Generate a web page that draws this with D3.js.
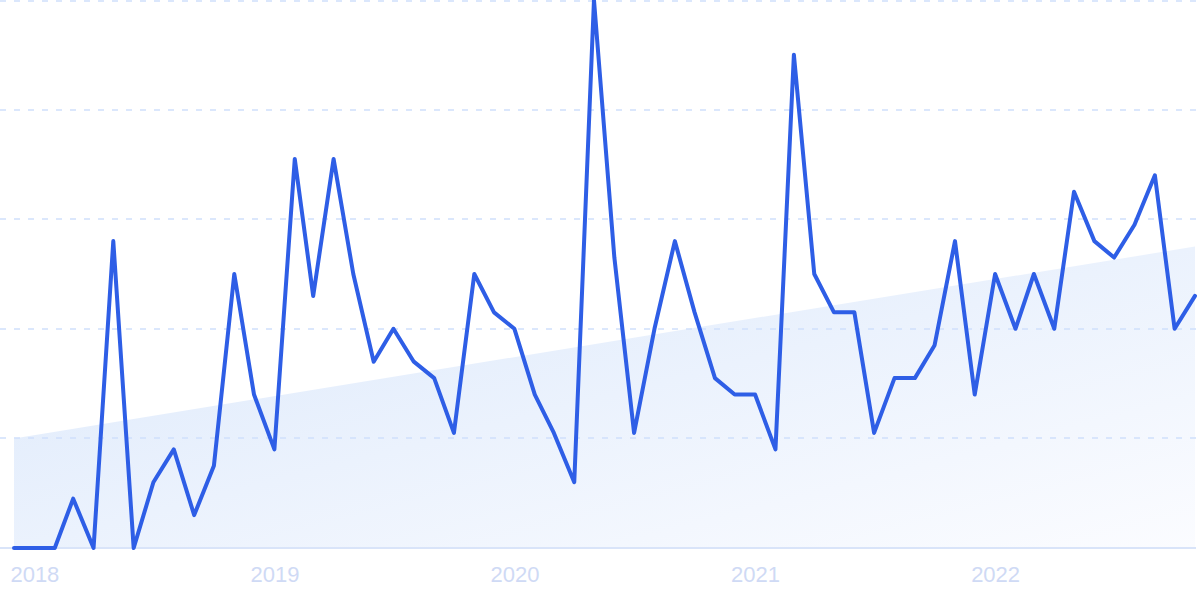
<!DOCTYPE html>
<html>
<head>
<meta charset="utf-8">
<script src="https://cdn.jsdelivr.net/npm/d3@7"></script>
<style>
  html, body { margin: 0; padding: 0; background: #ffffff; }
  svg { display: block; }
</style>
</head>
<body>
<svg id="chart" width="1200" height="600"></svg>
<script>
// ---- data ----
const startMonth = "2017-12";   // first monthly point
const values = [0, 0, 0, 9, 0, 56, 0, 12, 18, 6, 15, 50,
                28, 18, 71, 46, 71, 50, 34, 40, 34, 31, 21, 50,
                43, 40, 28, 21, 12, 100, 53, 21, 40, 56, 43, 31,
                28, 28, 18, 90, 50, 43, 43, 21, 31, 31, 37, 56,
                28, 50, 40, 50, 40, 65, 56, 53, 59, 68, 40, 46];
const trendValues = [20, 55];          // start / end of trend area
const gridValues = [20, 40, 60, 80, 100];
const tickYears = [2018, 2019, 2020, 2021, 2022];

// ---- setup ----
const svg = d3.select("#chart");
const parse = d3.timeParse("%Y-%m");
const d0 = parse(startMonth);
const dates = values.map((v, i) => d3.timeMonth.offset(d0, i));

const x = d3.scaleTime().domain([dates[0], dates[dates.length - 1]]).range([14, 1195]);
const y = d3.scaleLinear().domain([0, 100]).range([548, 0]);

// gradient for trend area
const defs = svg.append("defs");
const grad = defs.append("linearGradient")
  .attr("id", "trendGrad")
  .attr("x1", 0).attr("y1", 0).attr("x2", 1).attr("y2", 1);
grad.append("stop").attr("offset", "0%").attr("stop-color", "#dbe8fb");
grad.append("stop").attr("offset", "100%").attr("stop-color", "#fbfcff");

// trend area
const trendPts = [
  { d: dates[0], v: trendValues[0] },
  { d: dates[dates.length - 1], v: trendValues[1] }
];
svg.append("path")
  .datum(trendPts)
  .attr("fill", "url(#trendGrad)")
  .attr("d", d3.area().x(p => x(p.d)).y0(y(0)).y1(p => y(p.v)));

// gridlines
svg.append("g").selectAll("line")
  .data(gridValues)
  .join("line")
  .attr("x1", 0).attr("x2", 1200)
  .attr("y1", d => Math.max(1, Math.round(y(d))))
  .attr("y2", d => Math.max(1, Math.round(y(d))))
  .attr("stroke", "#cfe0fb")
  .attr("stroke-width", 1.6)
  .attr("stroke-dasharray", "6,8");

// baseline
svg.append("line")
  .attr("x1", 0).attr("x2", 1196)
  .attr("y1", y(0)).attr("y2", y(0))
  .attr("stroke", "#d9e4f9")
  .attr("stroke-width", 1.8);

// x axis labels
const xAxis = d3.axisBottom(x)
  .tickValues(tickYears.map(yr => new Date(yr, 0, 1)))
  .tickFormat(d3.timeFormat("%Y"))
  .tickSize(0)
  .tickPadding(0);
const gx = svg.append("g").attr("transform", "translate(0,560)").call(xAxis);
gx.select(".domain").remove();
gx.selectAll("text")
  .attr("dy", "0")
  .attr("y", 22)
  .attr("fill", "#cfdaf5")
  .style("font-family", "'Liberation Sans', Arial, sans-serif")
  .style("font-size", "22px");

// main line
svg.append("path")
  .datum(values)
  .attr("fill", "none")
  .attr("stroke", "#2e5ee6")
  .attr("stroke-width", 4)
  .attr("stroke-linejoin", "round")
  .attr("stroke-linecap", "round")
  .attr("d", d3.line().x((v, i) => x(dates[i])).y(v => y(v)));
</script>
</body>
</html>
